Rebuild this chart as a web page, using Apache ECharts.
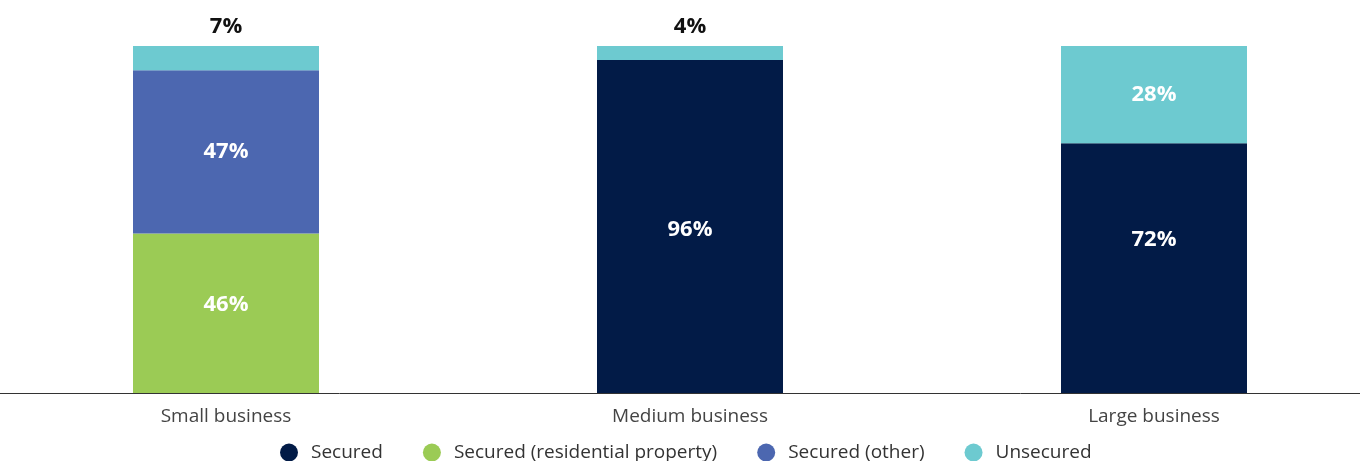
<!DOCTYPE html>
<html>
<head>
<meta charset="utf-8">
<style>
  html, body { margin: 0; padding: 0; background: #ffffff; }
  #chart { width: 1360px; height: 461px; }
</style>
<script src="https://cdn.jsdelivr.net/npm/echarts@6/dist/echarts.min.js"></script>
</head>
<body>
<div id="chart"></div>
<script>
// Share of business lending by security type, per business size (%)
const categories = ['Small business', 'Medium business', 'Large business'];
const securedValues = [null, 96, 72];
const securedResidentialValues = [46, null, null];
const securedOtherValues = [47, null, null];
const unsecuredValues = [7, 4, 28];

const seriesNames = ['Secured', 'Secured (residential property)', 'Secured (other)', 'Unsecured'];
const colors = ['#021b47', '#9bcb55', '#4c67b0', '#6dcad0'];

const FONT = '"Open Sans", "Noto Sans", sans-serif';

// Vertical nudges for a few inside labels (series index -> category index -> px)
const labelNudge = { 0: { 1: 3, 2: -28 }, 1: { 0: -8 } };

// Small segments get their label above the bar, the rest sit inside
function buildData(values, seriesIndex) {
  return values.map(function (v, i) {
    if (v == null) return null;
    if (v < 10) {
      return {
        value: v,
        label: { position: 'top', color: '#111111', distance: 8 }
      };
    }
    const dy = (labelNudge[seriesIndex] && labelNudge[seriesIndex][i]) || 0;
    return dy ? { value: v, label: { offset: [0, dy] } } : { value: v };
  });
}

function makeSeries(index, values) {
  return {
    name: seriesNames[index],
    type: 'bar',
    stack: 'total',
    barWidth: 186,
    itemStyle: { color: colors[index] },
    label: {
      show: true,
      position: 'inside',
      formatter: '{c}%',
      color: '#ffffff',
      fontFamily: FONT,
      fontWeight: 'bold',
      fontSize: 22
    },
    data: buildData(values, index)
  };
}

const chart = echarts.init(document.getElementById('chart'));
chart.setOption({
  animation: false,
  color: colors,
  grid: {
    left: -6, width: 1392, top: 46, bottom: 68,
    containLabel: false, outerBoundsMode: 'none'
  },
  legend: {
    data: seriesNames,
    top: 438,
    left: 275,
    icon: 'circle',
    itemWidth: 34,
    itemHeight: 18,
    itemGap: 40,
    symbolKeepAspect: true,
    textStyle: { fontFamily: FONT, fontSize: 19, color: '#333333' }
  },
  xAxis: {
    type: 'category',
    data: categories,
    axisLine: { show: true, lineStyle: { color: '#333333', width: 1 } },
    axisTick: { show: false },
    axisLabel: { fontFamily: FONT, fontSize: 19, color: '#444444', margin: 14 }
  },
  yAxis: {
    type: 'value',
    min: 0,
    max: 100,
    show: false,
    splitLine: { show: false }
  },
  series: [
    makeSeries(0, securedValues),
    makeSeries(1, securedResidentialValues),
    makeSeries(2, securedOtherValues),
    makeSeries(3, unsecuredValues)
  ]
});
</script>
</body>
</html>
